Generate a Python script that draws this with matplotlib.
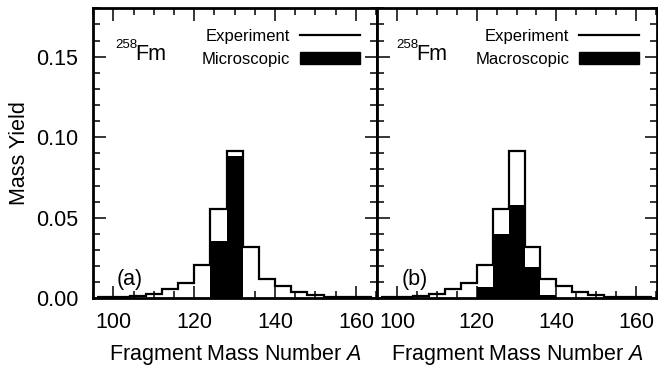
import numpy as np
import matplotlib
matplotlib.use("Agg")
import matplotlib.pyplot as plt
from matplotlib.ticker import MultipleLocator, FormatStrFormatter
from matplotlib.patches import Patch
from matplotlib.lines import Line2D

plt.rcParams['font.family'] = ['Liberation Sans', 'DejaVu Sans']
plt.rcParams['mathtext.fontset'] = 'custom'
plt.rcParams['mathtext.rm'] = 'Liberation Sans'
plt.rcParams['mathtext.it'] = 'Liberation Sans:italic'

# bin edges (fragment mass number A)
edges = [96, 100, 104, 108, 112, 116, 120, 124, 128, 132, 136, 140, 144, 148, 152, 156, 160, 164]
experiment = [0.0008, 0.0008, 0.0015, 0.0027, 0.0056, 0.0093, 0.0205, 0.0554, 0.0917,
              0.0318, 0.0122, 0.0076, 0.0041, 0.0020, 0.0008, 0.0008, 0.0008]
microscopic = [0, 0, 0, 0, 0, 0, 0, 0.0356, 0.0885, 0, 0, 0, 0, 0, 0, 0, 0]
macroscopic = [0, 0, 0, 0, 0, 0, 0.0072, 0.0397, 0.0577, 0.0192, 0.0019, 0, 0, 0, 0, 0, 0]

panels = [("(a)", "Microscopic", microscopic), ("(b)", "Macroscopic", macroscopic)]

FS = 15.5

fig = plt.figure(figsize=(6.58, 3.66), dpi=100)
left0, right_split, right1 = 93.3 / 658, 377.3 / 658, 657 / 658
bottom, top = 1 - 298.3 / 366, 1 - 8.3 / 366
axes = [fig.add_axes([left0, bottom, right_split - left0, top - bottom]),
        fig.add_axes([right_split, bottom, right1 - right_split, top - bottom])]

tag_x = [0.083, 0.087]
iso_x = [0.076, 0.069]

for i, (ax, (tag, name, model)) in enumerate(zip(axes, panels)):
    ax.stairs(model, edges, fill=True, color='black', lw=0)
    ax.stairs(experiment, edges, color='black', lw=1.6, baseline=None)
    ax.set_xlim(95, 165.3)
    ax.set_ylim(0, 0.18)
    ax.xaxis.set_major_locator(MultipleLocator(20))
    ax.xaxis.set_minor_locator(MultipleLocator(5))
    ax.yaxis.set_major_locator(MultipleLocator(0.05))
    ax.yaxis.set_minor_locator(MultipleLocator(0.01))
    ax.yaxis.set_major_formatter(FormatStrFormatter('%.2f'))
    ax.tick_params(which='both', direction='in', top=True, right=True, width=1.1,
                   labelsize=FS)
    ax.tick_params(axis='x', which='both', pad=10)
    ax.tick_params(axis='y', which='both', pad=11)
    ax.tick_params(which='major', length=9)
    ax.tick_params(which='minor', length=5)
    for s in ax.spines.values():
        s.set_linewidth(2)
    if i == 1:
        ax.tick_params(labelleft=False)
    else:
        ax.set_ylabel('Mass Yield', fontsize=FS, labelpad=4)
    ax.set_xlabel('Fragment Mass Number $A$', fontsize=FS, labelpad=6)
    ax.text(iso_x[i], 0.862, '258', transform=ax.transAxes, fontsize=9.5, va='baseline')
    ax.text(iso_x[i] + 0.071, 0.822, 'Fm', transform=ax.transAxes, fontsize=FS,
            va='baseline')
    ax.text(tag_x[i], 0.046, tag, transform=ax.transAxes, fontsize=FS, va='baseline')
    handles = [Line2D([0], [0], color='black', lw=1.6),
               Patch(facecolor='black', edgecolor='black')]
    ax.legend(handles, ['Experiment', name], loc='upper right', markerfirst=False,
              frameon=False, fontsize=12, handlelength=3.6, handleheight=0.8,
              handletextpad=0.6, labelspacing=0.45, borderaxespad=0.4,
              bbox_to_anchor=(0.985, 0.975))

fig.savefig('out.png', dpi=100)
